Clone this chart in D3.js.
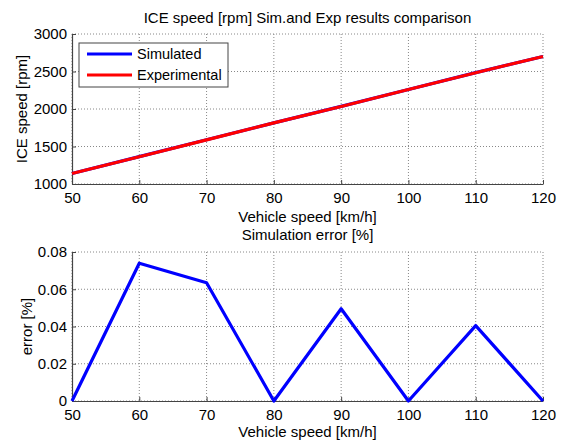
<!DOCTYPE html>
<html>
<head>
<meta charset="utf-8">
<script src="https://cdn.jsdelivr.net/npm/d3@7"></script>
<style>
  body { margin: 0; background: #fff; }
  svg text { font-family: "Liberation Sans", Arial, sans-serif; fill: #000; }
</style>
</head>
<body>
<div id="chart"></div>
<script>
// data
const speeds = [50, 60, 70, 80, 90, 100, 110, 120];
const iceSimulated = [1140, 1365, 1590, 1815, 2035, 2260, 2485, 2700];
const iceExperimental = [1140, 1364, 1589, 1815, 2034, 2260, 2484, 2700];
const simError = [0, 0.074, 0.0635, 0, 0.0495, 0, 0.0405, 0];
const xTicks = [50, 60, 70, 80, 90, 100, 110, 120];
const iceTicks = [1000, 1500, 2000, 2500, 3000];
const errTicks = [0, 0.02, 0.04, 0.06, 0.08];

const width = 564, height = 443;
const left = 72, right = 543;
const fontSize = "15px";

const svg = d3.select("#chart")
  .append("svg")
    .attr("width", width)
    .attr("height", height);

function drawPanel(opts) {
  const x = d3.scaleLinear().domain([50, 120]).range([left, right]);
  const y = d3.scaleLinear().domain(opts.yDomain).range([opts.bottom, opts.top]);

  const g = svg.append("g");

  // dotted grid
  g.selectAll(".vg").data(xTicks).join("line")
    .attr("x1", d => x(d)).attr("x2", d => x(d))
    .attr("y1", opts.top).attr("y2", opts.bottom)
    .attr("stroke", "#888").attr("stroke-width", 1)
    .attr("stroke-dasharray", "1,2");
  g.selectAll(".hg").data(opts.yTicks).join("line")
    .attr("x1", left).attr("x2", right)
    .attr("y1", d => y(d)).attr("y2", d => y(d))
    .attr("stroke", "#888").attr("stroke-width", 1)
    .attr("stroke-dasharray", "1,2");

  // axes, matlab style ticks pointing inward
  const xAxis = d3.axisBottom(x).tickValues(xTicks).tickSizeInner(-4).tickSizeOuter(0).tickPadding(8);
  const yAxis = d3.axisLeft(y).tickValues(opts.yTicks).tickFormat(opts.fmt).tickSizeInner(-4).tickSizeOuter(0).tickPadding(5);

  const gx = g.append("g").attr("transform", `translate(0,${opts.bottom})`).call(xAxis);
  const gy = g.append("g").attr("transform", `translate(${left},0)`).call(yAxis);
  [gx, gy].forEach(a => {
    a.selectAll("path").attr("stroke", "#444").attr("stroke-width", 1.2);
    a.selectAll("line").attr("stroke", "#444");
    a.selectAll("text").style("font-size", fontSize).attr("fill", "#000");
  });

  // lines
  const line = d3.line().x((d, i) => x(speeds[i])).y(d => y(d));
  opts.series.forEach(s => {
    g.append("path").datum(s.values)
      .attr("d", line)
      .attr("fill", "none")
      .attr("stroke", s.color)
      .attr("stroke-width", 3.2)
      .attr("stroke-linejoin", "round");
  });

  // title and labels
  svg.append("text").attr("x", (left + right) / 2).attr("y", opts.titleY)
    .attr("text-anchor", "middle").style("font-size", fontSize).text(opts.title);
  svg.append("text").attr("x", (left + right) / 2).attr("y", opts.xLabelY)
    .attr("text-anchor", "middle").style("font-size", fontSize).text("Vehicle speed [km/h]");
  svg.append("text")
    .attr("transform", `translate(${opts.yLabelX},${(opts.top + opts.bottom) / 2}) rotate(-90)`)
    .attr("text-anchor", "middle").style("font-size", fontSize).text(opts.yLabel);

  return { x, y };
}

drawPanel({
  top: 34, bottom: 184,
  yDomain: [1000, 3000], yTicks: iceTicks, fmt: d3.format("d"),
  title: "ICE speed [rpm] Sim.and Exp results comparison", titleY: 23,
  xLabelY: 222, yLabel: "ICE speed [rpm]", yLabelX: 27,
  series: [
    { name: "Simulated", values: iceSimulated, color: "#0000ff" },
    { name: "Experimental", values: iceExperimental, color: "#ff0000" }
  ]
});

drawPanel({
  top: 252, bottom: 401,
  yDomain: [0, 0.08], yTicks: errTicks, fmt: d => d === 0 ? "0" : d3.format(".2f")(d),
  title: "Simulation error [%]", titleY: 240,
  xLabelY: 437, yLabel: "error [%]", yLabelX: 32,
  series: [
    { name: "Simulated", values: simError, color: "#0000ff" }
  ]
});

// legend for top panel
const legendItems = [
  { name: "Simulated", color: "#0000ff" },
  { name: "Experimental", color: "#ff0000" }
];
const lg = svg.append("g").attr("transform", "translate(79,43)");
lg.append("rect").attr("width", 149).attr("height", 44)
  .attr("fill", "#fff").attr("stroke", "#444").attr("stroke-width", 1);
legendItems.forEach((d, i) => {
  const yy = 11 + i * 21;
  lg.append("line").attr("x1", 8).attr("x2", 53).attr("y1", yy).attr("y2", yy)
    .attr("stroke", d.color).attr("stroke-width", 3.2);
  lg.append("text").attr("x", 58).attr("y", yy + 5).style("font-size", "14.5px").text(d.name);
});
</script>
</body>
</html>
